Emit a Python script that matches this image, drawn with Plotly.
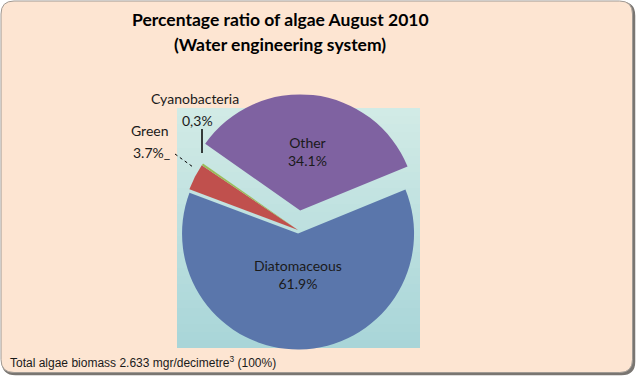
import plotly.graph_objects as go

# ---- data ----
categories = ["Other", "Diatomaceous", "Green", "Cyanobacteria"]
values = [34.1, 61.9, 3.7, 0.3]
pct_labels = ["34.1%", "61.9%", "3.7%", "0,3%"]
colors = ["#7F62A1", "#5A76AB", "#C0504D", "#9BBB59"]
pulls = [0.17, 0.03, 0.0, 0.0]

title_lines = ["Percentage ratio of algae August 2010", "(Water engineering system)"]
footnote = "Total algae biomass 2.633 mgr/decimetre<sup>3</sup> (100%)"

W, H = 638, 377


def px(x):
    return x / W


def py(y):
    return 1 - y / H


fig = go.Figure()

# pie placement (pixel box)
cx, cy, r = 298, 230, 116
half = r * (1 + max(pulls))
fig.add_trace(go.Pie(
    labels=categories,
    values=values,
    sort=False,
    direction="clockwise",
    rotation=-55,
    pull=pulls,
    marker=dict(colors=colors, line=dict(width=0)),
    textinfo="none",
    hoverinfo="label+percent",
    showlegend=False,
    domain=dict(x=[px(cx - half), px(cx + half)], y=[py(cy + half), py(cy - half)]),
))

shapes = []


def rpath(x0, y0, x1, y1, rad):
    return (f"M {px(x0+rad)},{py(y0)} L {px(x1-rad)},{py(y0)} "
            f"Q {px(x1)},{py(y0)} {px(x1)},{py(y0+rad)} "
            f"L {px(x1)},{py(y1-rad)} Q {px(x1)},{py(y1)} {px(x1-rad)},{py(y1)} "
            f"L {px(x0+rad)},{py(y1)} Q {px(x0)},{py(y1)} {px(x0)},{py(y1-rad)} "
            f"L {px(x0)},{py(y0+rad)} Q {px(x0)},{py(y0)} {px(x0+rad)},{py(y0)} Z")


shapes.append(dict(type="path", xref="paper", yref="paper", path=rpath(2.5, 2.5, 634.5, 374.5, 13),
                   line=dict(color="#7a7672", width=1.5), fillcolor="#7a7672", layer="below"))
shapes.append(dict(type="path", xref="paper", yref="paper", path=rpath(1, 1, 632.5, 372.5, 13),
                   line=dict(color="#a09a94", width=1), fillcolor="#FDE5D2", layer="below"))

# plot area with vertical gradient
top_c = (0xD2, 0xEB, 0xE6)
bot_c = (0xA8, 0xD5, 0xD8)
x0p, x1p, y0p, y1p = 177, 420, 108, 348
n = 30
for i in range(n):
    t = (i + 0.5) / n
    c = tuple(round(top_c[k] + (bot_c[k] - top_c[k]) * t) for k in range(3))
    ya = y0p + (y1p - y0p) * i / n
    yb = y0p + (y1p - y0p) * (i + 1) / n + 0.6
    shapes.append(dict(type="rect", xref="paper", yref="paper",
                       x0=px(x0p), x1=px(x1p), y0=py(min(yb, y1p)), y1=py(ya),
                       line=dict(width=0), fillcolor="rgb(%d,%d,%d)" % c, layer="below"))

# leader lines
shapes.append(dict(type="line", xref="paper", yref="paper", x0=px(202), x1=px(202), y0=py(129), y1=py(153),
                   line=dict(color="black", width=1.5)))
shapes.append(dict(type="line", xref="paper", yref="paper", x0=px(175), x1=px(193), y0=py(154), y1=py(167),
                   line=dict(color="black", width=1, dash="dot")))

font_main = "Lato, Carlito, Calibri, sans-serif"
ann = []


def add_text(x, y, text, font, xanchor="center"):
    ann.append(dict(x=px(x), y=py(y), xref="paper", yref="paper", text=text, showarrow=False,
                    xanchor=xanchor, yanchor="middle", font=font))


title_font = dict(family=font_main, size=17.5, color="black")
add_text(280, 19, "<b>%s</b>" % title_lines[0], title_font)
add_text(280, 44, "<b>%s</b>" % title_lines[1], title_font)

lab_font = dict(family=font_main, size=14, color="#1a1a1a")
add_text(307, 151, categories[0] + "<br>" + pct_labels[0], lab_font)
add_text(298, 274, categories[1] + "<br>" + pct_labels[1], lab_font)
add_text(150, 130, categories[2], lab_font)
add_text(151, 152, pct_labels[2] + "_", lab_font)
add_text(195, 99, categories[3], lab_font)
add_text(197, 120, pct_labels[3], lab_font)

add_text(8, 362, footnote, dict(family="Liberation Sans, Arial, sans-serif", size=12, color="#1a1a1a"),
         xanchor="left")

fig.update_layout(
    width=W, height=H,
    margin=dict(l=0, r=0, t=0, b=0),
    paper_bgcolor="white",
    plot_bgcolor="white",
    shapes=shapes,
    annotations=ann,
    showlegend=False,
)

fig.write_html("out.html", config={"displayModeBar": False},
               post_script="document.body.style.margin='0';")
